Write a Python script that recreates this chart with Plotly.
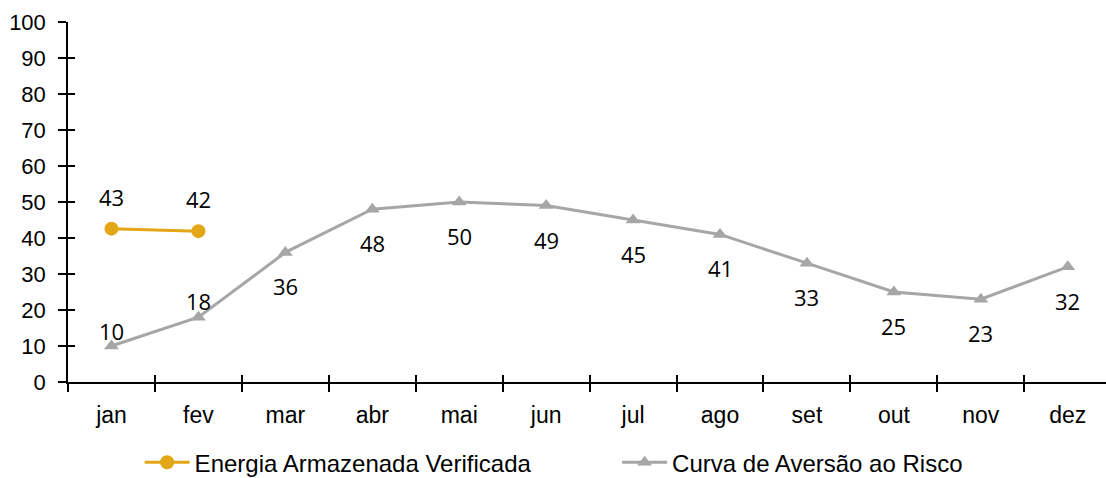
import plotly.graph_objects as go

# Monthly series (% of stored energy)
months = ["jan", "fev", "mar", "abr", "mai", "jun", "jul", "ago", "set", "out", "nov", "dez"]
energia_verificada = [42.6, 41.9]
curva_aversao = [10, 18, 36, 48, 50, 49, 45, 41, 33, 25, 23, 32]
y_ticks = [0, 10, 20, 30, 40, 50, 60, 70, 80, 90, 100]

GOLD = "#E3A617"
GRAY = "#A6A6A6"
ARIAL = "Liberation Sans, Arial, sans-serif"
X_TICK_FONT = dict(family=ARIAL, size=23, color="black")
Y_TICK_FONT = dict(family=ARIAL, size=22, color="black")
LABEL_FONT = dict(family="Open Sans, sans-serif", size=22, color="black")
LEGEND_FONT = dict(family=ARIAL, size=24, color="black")

fig = go.Figure()

fig.add_trace(go.Scatter(
    x=months[:len(energia_verificada)], y=energia_verificada,
    name="Energia Armazenada Verificada",
    mode="lines+markers",
    line=dict(color=GOLD, width=3),
    marker=dict(symbol="circle", size=14, color=GOLD),
    legend="legend",
))
fig.add_trace(go.Scatter(
    x=months, y=curva_aversao,
    name="Curva de Aversão ao Risco",
    mode="lines+markers",
    line=dict(color=GRAY, width=3),
    marker=dict(symbol="triangle-up", size=13, color=GRAY),
    legend="legend2",
))
# invisible trace that carries the overlay axes (inner half of the crossing ticks)
fig.add_trace(go.Scatter(
    x=months, y=[None] * len(months), xaxis="x2", yaxis="y2",
    mode="lines", showlegend=False, hoverinfo="skip",
))

# value labels
annotations = []
for m, v in zip(months, energia_verificada):
    annotations.append(dict(x=m, y=v, text=f"{v:.0f}", showarrow=False,
                            yanchor="middle", yshift=32, font=LABEL_FONT))
above = {"jan": 15, "fev": 16}
for m, v in zip(months, curva_aversao):
    annotations.append(dict(x=m, y=v, text=f"{v:.0f}", showarrow=False,
                            yanchor="middle", yshift=above.get(m, -34), font=LABEL_FONT))

x_range = [-0.5, 11.44]
axis_common = dict(showline=True, linecolor="black", linewidth=1.5,
                   tickcolor="black", tickwidth=1.5, showgrid=False, zeroline=False)
legend_common = dict(orientation="h", xanchor="left", y=-0.224, yanchor="middle",
                     font=LEGEND_FONT, itemwidth=45, bgcolor="rgba(0,0,0,0)")

fig.update_layout(
    width=1106, height=478,
    margin=dict(l=68, r=0, t=22, b=96, autoexpand=False),
    paper_bgcolor="white", plot_bgcolor="white",
    showlegend=True,
    legend=dict(x=0.069, **legend_common),
    legend2=dict(x=0.529, **legend_common),
    xaxis=dict(type="category", categoryorder="array", categoryarray=months,
               range=x_range, tickson="boundaries", ticks="outside", ticklen=8,
               ticklabelstandoff=12, tickfont=X_TICK_FONT, **axis_common),
    yaxis=dict(range=[0, 100], tickvals=y_ticks, ticks="outside", ticklen=8,
               ticklabelstandoff=8, tickfont=Y_TICK_FONT, **axis_common),
    xaxis2=dict(type="category", categoryorder="array", categoryarray=months,
                overlaying="x", anchor="y2", matches="x", range=x_range,
                tickson="boundaries", ticks="inside", ticklen=7,
                showticklabels=False, **axis_common),
    yaxis2=dict(range=[0, 100], tickvals=y_ticks, overlaying="y", anchor="x2",
                ticks="inside", ticklen=7, showticklabels=False, **axis_common),
    annotations=annotations,
)

fig.write_html("out.html")
